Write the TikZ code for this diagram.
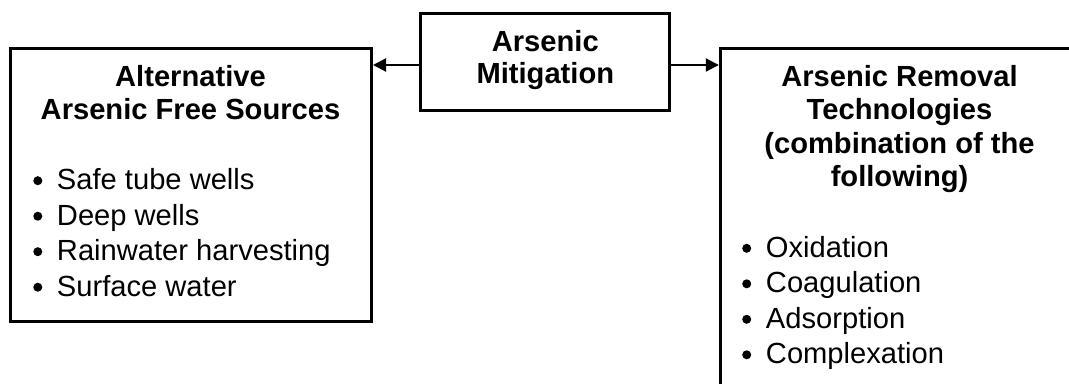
\documentclass[tikz,border=0pt]{standalone}
\usepackage{fontspec}
\setmainfont{Liberation Sans}
\usetikzlibrary{arrows.meta}
\begin{document}
\begin{tikzpicture}[x=0.75pt,y=-0.75pt,
  frame/.style={draw=black, line width=2.25pt, inner sep=0pt},
  ttl/.style={font=\fontsize{21.85pt}{24pt}\selectfont\bfseries, anchor=base, inner sep=0pt},
  itm/.style={font=\fontsize{21.85pt}{24pt}\selectfont, anchor=base west, inner sep=0pt},
  arr/.style={line width=1.5pt, -{Triangle[length=9.75pt,width=9.75pt]}},
  bulletdot/.style={fill=black}
]
\useasboundingbox (0,0) rectangle (1069,383);
\clip (0,0) rectangle (1069,383);
% boxes
\node[frame, minimum width=270.75pt, minimum height=204.75pt] (alt) at (191,185) {};
\node[frame, minimum width=187pt, minimum height=73pt] (mit) at (545.3,62) {};
\node[frame, minimum width=300pt, minimum height=300pt] (rem) at (920.3,248.5) {};
% connectors
\coordinate (ay) at (0,65);
\draw[arr] (mit.west |- ay) -- (alt.east |- ay);
\draw[arr] (mit.east |- ay) -- (rem.west |- ay);
% titles
\node[ttl] (lt1) at (190.5,86) {Alternative};
\node[ttl] (lt2) at (190.5,119) {Arsenic Free Sources};
\node[ttl] (mt1) at (545.3,51.5) {Arsenic};
\node[ttl] (mt2) at (545.3,83.5) {Mitigation};
\node[ttl] (rt1) at (899.5,86) {Arsenic Removal};
\node[ttl] (rt2) at (899.5,119.5) {Technologies};
\node[ttl] (rt3) at (899.5,153) {(combination of the};
\node[ttl] (rt4) at (899.5,186.5) {following)};
% left list
\node[itm] (l1) at (56.7,189.5) {Safe tube wells};
\node[itm] (l2) at (56.7,225) {Deep wells};
\node[itm] (l3) at (56.7,260.5) {Rainwater harvesting};
\node[itm] (l4) at (56.7,296) {Surface water};
\foreach \yy in {180.7,216.2,251.7,287.2}
  \fill[bulletdot] (37.8,\yy) circle[radius=4.5];
% right list
\node[itm] (r1) at (765.7,257) {Oxidation};
\node[itm] (r2) at (765.7,292.5) {Coagulation};
\node[itm] (r3) at (765.7,328) {Adsorption};
\node[itm] (r4) at (765.7,363.5) {Complexation};
\foreach \yy in {248.3,283.8,319.3,354.8}
  \fill[bulletdot] (746.7,\yy) circle[radius=4.5];
\end{tikzpicture}
\end{document}
